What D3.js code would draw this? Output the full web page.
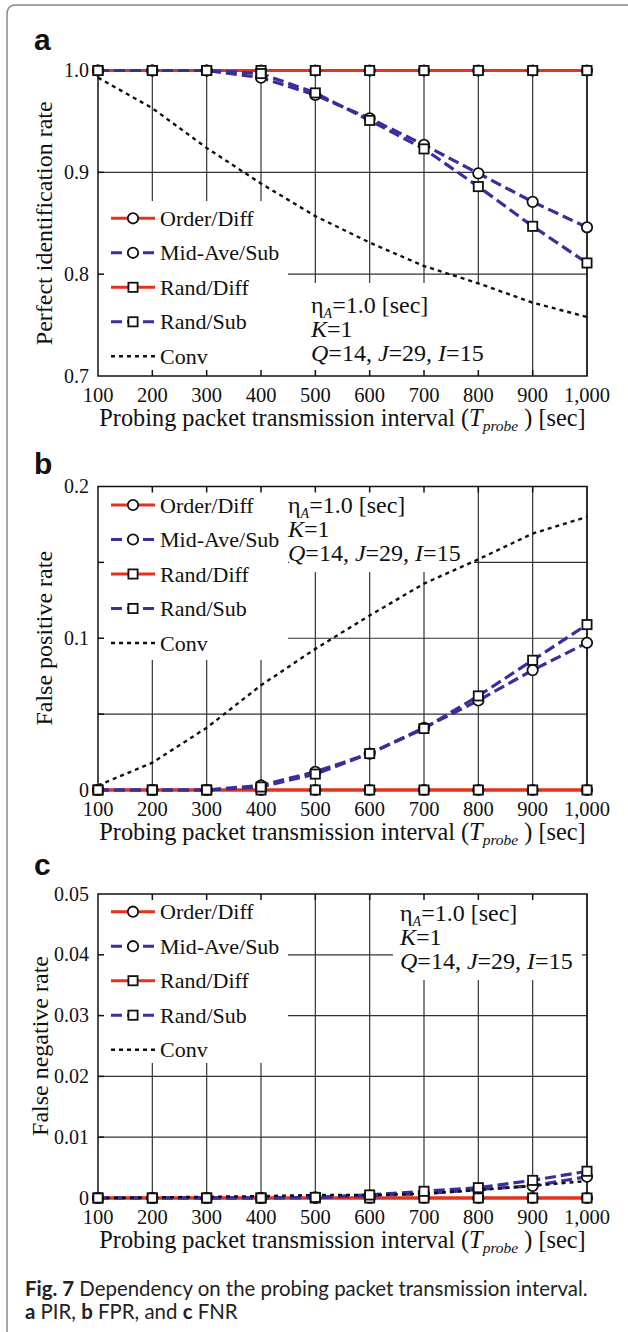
<!DOCTYPE html>
<html lang="en">
<head>
    <meta charset="UTF-8">
    <title>Fig. 7 Dependency on the probing packet transmission interval</title>
    <style>
        body { margin: 0; background: #fff; }
        svg { display: block; }
        .serif { font-family: "Liberation Serif", "Times New Roman", serif; fill: #111; }
        .grid { stroke: #333; stroke-width: 1.2px; }
        .frame { stroke: #111; stroke-width: 1.5px; fill: none; }
    </style>
</head>
<body>
    <svg width="628" height="1332"></svg>
    <script src="https://d3js.org/d3.v7.min.js"></script>
    <script>
        // ---- data ----
        const intervals = [100, 200, 300, 400, 500, 600, 700, 800, 900, 1000];
        const intervalLabels = ["100", "200", "300", "400", "500", "600", "700", "800", "900", "1,000"];

        // a: perfect identification rate
        const pirOrderDiff = [1, 1, 1, 1, 1, 1, 1, 1, 1, 1];
        const pirMidAveSub = [1, 1, 1, 0.993, 0.976, 0.953, 0.927, 0.899, 0.871, 0.846];
        const pirRandDiff  = [1, 1, 1, 1, 1, 1, 1, 1, 1, 1];
        const pirRandSub   = [1, 1, 1, 0.997, 0.978, 0.951, 0.923, 0.886, 0.847, 0.811];
        const pirConv      = [0.993, 0.963, 0.924, 0.889, 0.857, 0.831, 0.808, 0.791, 0.772, 0.758];

        // b: false positive rate
        const fprOrderDiff = [0, 0, 0, 0, 0, 0, 0, 0, 0, 0];
        const fprMidAveSub = [0, 0, 0, 0.003, 0.012, 0.024, 0.041, 0.059, 0.079, 0.097];
        const fprRandDiff  = [0, 0, 0, 0, 0, 0, 0, 0, 0, 0];
        const fprRandSub   = [0, 0, 0, 0.002, 0.0105, 0.024, 0.0405, 0.062, 0.0855, 0.109];
        const fprConv      = [0.003, 0.018, 0.041, 0.069, 0.093, 0.115, 0.136, 0.152, 0.169, 0.18];

        // c: false negative rate
        const fnrOrderDiff = [0, 0, 0, 0, 0, 0, 0, 0, 0, 0];
        const fnrMidAveSub = [0, 0, 0, 0, 0.0001, 0.0004, 0.0007, 0.0014, 0.002, 0.0035];
        const fnrRandDiff  = [0, 0, 0, 0, 0, 0, 0, 0, 0, 0];
        const fnrRandSub   = [0, 0, 0, 0, 0.0001, 0.0005, 0.0011, 0.0017, 0.0029, 0.0044];
        const fnrConv      = [0, 0.0001, 0.0002, 0.0003, 0.0005, 0.0005, 0.0007, 0.0013, 0.002, 0.0028];

        const seriesNames = ["Order/Diff", "Mid-Ave/Sub", "Rand/Diff", "Rand/Sub", "Conv"];

        const pirTicks = [0.7, 0.8, 0.9, 1.0], pirTickLabels = ["0.7", "0.8", "0.9", "1.0"];
        const fprTicks = [0, 0.05, 0.1, 0.15, 0.2], fprTickLabels = ["0", "", "0.1", "", "0.2"];
        const fnrTicks = [0, 0.01, 0.02, 0.03, 0.04, 0.05], fnrTickLabels = ["0", "0.01", "0.02", "0.03", "0.04", "0.05"];

        // ---- styles ----
        const RED = "#e4321e", BLUE = "#3b2d9b";
        const styles = [
            { color: RED,  dash: null,   marker: "circle" },
            { color: BLUE, dash: "11,5", marker: "circle" },
            { color: RED,  dash: null,   marker: "square" },
            { color: BLUE, dash: "11,5", marker: "square" },
            { color: "#111", dash: "4,4", marker: null, width: 2.4 }
        ];

        const svg = d3.select("svg");
        const x = d3.scaleLinear().domain([100, 1000]).range([98, 587]);

        // page frame
        svg.append("path")
            .attr("d", "M7,1332 V14 Q7,5 16,5 H640")
            .attr("fill", "none").attr("stroke", "#8a8a8a").attr("stroke-width", 1.5);

        const panels = [
            { label: "a", labelY: 50, title: "Perfect identification rate", titleX: 52,
              domain: [0.7, 1.0], range: [376, 70.5], ticks: pirTicks, tickLabels: pirTickLabels,
              series: [pirOrderDiff, pirMidAveSub, pirRandDiff, pirRandSub, pirConv],
              legend: { box: [98, 200, 288, 376], y0: 218.3 },
              note: { box: [288, 282, 520, 376], x: 311, y0: 313 } },
            { label: "b", labelY: 474, title: "False positive rate", titleX: 52,
              domain: [0, 0.2], range: [790, 486.5], ticks: fprTicks, tickLabels: fprTickLabels,
              series: [fprOrderDiff, fprMidAveSub, fprRandDiff, fprRandSub, fprConv],
              legend: { box: [98, 486.5, 288, 660], y0: 505 },
              note: { box: [288, 486.5, 474, 572], x: 288, y0: 513 } },
            { label: "c", labelY: 875, title: "False negative rate", titleX: 48,
              domain: [0, 0.05], range: [1198, 894], ticks: fnrTicks, tickLabels: fnrTickLabels,
              series: [fnrOrderDiff, fnrMidAveSub, fnrRandDiff, fnrRandSub, fnrConv],
              legend: { box: [98, 894, 288, 1063], y0: 911.7 },
              note: { box: [392, 894, 582, 980], x: 400, y0: 921 } }
        ];

        function drawMarker(g, shape, cx, cy) {
            if (shape === "circle") {
                g.append("circle").attr("cx", cx).attr("cy", cy).attr("r", 5.2)
                    .attr("fill", "#fff").attr("stroke", "#111").attr("stroke-width", 1.8);
            } else if (shape === "square") {
                g.append("rect").attr("x", cx - 4.6).attr("y", cy - 4.6)
                    .attr("width", 9.2).attr("height", 9.2)
                    .attr("fill", "#fff").attr("stroke", "#111").attr("stroke-width", 1.8);
            }
        }

        panels.forEach(function(p) {
            const y = d3.scaleLinear().domain(p.domain).range(p.range);
            const g = svg.append("g");
            const top = p.range[1], bottom = p.range[0], left = x.range()[0], right = x.range()[1];

            // grid
            g.selectAll(".hgrid").data(p.ticks.slice(1, -1)).enter().append("line")
                .attr("class", "grid")
                .attr("x1", left).attr("x2", right)
                .attr("y1", d => y(d)).attr("y2", d => y(d));
            g.selectAll(".vgrid").data(intervals.slice(1)).enter().append("line")
                .attr("class", "grid")
                .attr("x1", d => x(d)).attr("x2", d => x(d))
                .attr("y1", top).attr("y2", bottom);

            // white boxes behind legend and note
            [p.legend.box, p.note.box].forEach(function(b) {
                g.append("rect").attr("x", b[0] + 1).attr("y", b[1] + 1)
                    .attr("width", b[2] - b[0] - 1).attr("height", b[3] - b[1] - 1)
                    .attr("fill", "#fff");
            });

            // frame and inside ticks
            g.append("rect").attr("class", "frame")
                .attr("x", left).attr("y", top).attr("width", right - left).attr("height", bottom - top);
            intervals.slice(1, -1).forEach(function(d) {
                g.append("line").attr("class", "frame").attr("x1", x(d)).attr("x2", x(d))
                    .attr("y1", bottom).attr("y2", bottom - 6);
                g.append("line").attr("class", "frame").attr("x1", x(d)).attr("x2", x(d))
                    .attr("y1", top).attr("y2", top + 6);
            });
            p.ticks.slice(1, -1).forEach(function(d) {
                g.append("line").attr("class", "frame").attr("x1", left).attr("x2", left + 6)
                    .attr("y1", y(d)).attr("y2", y(d));
            });

            // axis labels
            g.selectAll(".ytl").data(p.ticks).enter().append("text")
                .attr("class", "serif").attr("font-size", 20)
                .attr("x", 89).attr("y", d => y(d)).attr("dy", "0.33em")
                .attr("text-anchor", "end")
                .text((d, i) => p.tickLabels[i]);
            g.selectAll(".xtl").data(intervals).enter().append("text")
                .attr("class", "serif").attr("font-size", 20.5)
                .attr("x", d => x(d)).attr("y", bottom + 26)
                .attr("text-anchor", "middle")
                .text((d, i) => intervalLabels[i]);

            const xt = g.append("text").attr("class", "serif").attr("font-size", 24.3)
                .attr("x", (left + right) / 2).attr("y", bottom + 50).attr("text-anchor", "middle");
            xt.append("tspan").text("Probing packet transmission interval (");
            xt.append("tspan").attr("font-style", "italic").text("T");
            xt.append("tspan").attr("font-style", "italic").attr("font-size", 15.5).attr("dy", 5).text("probe");
            xt.append("tspan").attr("dy", -5).text(" ) [sec]");

            g.append("text").attr("class", "serif").attr("font-size", 24)
                .attr("transform", "translate(" + p.titleX + "," + ((top + bottom) / 2) + ") rotate(-90)")
                .attr("text-anchor", "middle")
                .text(p.title);

            g.append("text").attr("x", 34).attr("y", p.labelY)
                .attr("font-family", "'Liberation Sans', Arial, sans-serif")
                .attr("font-weight", "bold").attr("font-size", 30).attr("fill", "#111")
                .text(p.label);

            // series lines
            const line = d3.line().x((d, i) => x(intervals[i])).y(d => y(d));
            const lineOrder = [0, 2, 1, 3, 4];
            lineOrder.forEach(function(k) {
                const s = styles[k];
                g.append("path").datum(p.series[k])
                    .attr("d", line).attr("fill", "none")
                    .attr("stroke", s.color).attr("stroke-width", s.width || 3.2)
                    .attr("stroke-dasharray", s.dash);
            });
            // markers
            [0, 1, 2, 3].forEach(function(k) {
                p.series[k].forEach(function(v, i) {
                    drawMarker(g, styles[k].marker, x(intervals[i]), y(v));
                });
            });

            // legend
            seriesNames.forEach(function(name, k) {
                const cy = p.legend.y0 + k * 34.5, s = styles[k];
                g.append("line").attr("x1", 111).attr("x2", 155).attr("y1", cy).attr("y2", cy)
                    .attr("stroke", s.color).attr("stroke-width", s.width || 3)
                    .attr("stroke-dasharray", s.dash);
                drawMarker(g, s.marker, 133, cy);
                g.append("text").attr("class", "serif").attr("font-size", 22)
                    .attr("x", 160).attr("y", cy + 7.5).text(name);
            });

            // parameter note
            const n = g.append("text").attr("class", "serif").attr("font-size", 24);
            n.append("tspan").attr("x", p.note.x).attr("y", p.note.y0).text("η");
            n.append("tspan").attr("font-style", "italic").attr("font-size", 14).attr("dy", 5).text("A");
            n.append("tspan").attr("dy", -5).text("=1.0 [sec]");
            n.append("tspan").attr("x", p.note.x).attr("y", p.note.y0 + 24).attr("font-style", "italic").text("K");
            n.append("tspan").text("=1");
            n.append("tspan").attr("x", p.note.x).attr("y", p.note.y0 + 48).attr("font-style", "italic").text("Q");
            n.append("tspan").text("=14, ");
            n.append("tspan").attr("font-style", "italic").text("J");
            n.append("tspan").text("=29, ");
            n.append("tspan").attr("font-style", "italic").text("I");
            n.append("tspan").text("=15");
        });

        // caption: size fitted so the first line spans the same width as the original
        const capFont = "Lato, 'Open Sans', sans-serif";
        const c1 = svg.append("text").attr("x", 25).attr("y", 1296)
            .attr("font-family", capFont).attr("font-size", 18).attr("fill", "#222");
        c1.append("tspan").attr("font-weight", "bold").text("Fig. 7");
        c1.append("tspan").text(" Dependency on the probing packet transmission interval.");
        const capSize = 18 * 563 / c1.node().getComputedTextLength();
        c1.attr("font-size", capSize);
        const c2 = svg.append("text").attr("x", 25).attr("y", 1319)
            .attr("font-family", capFont).attr("font-size", capSize).attr("fill", "#222");
        c2.append("tspan").attr("font-weight", "bold").text("a");
        c2.append("tspan").text(" PIR, ");
        c2.append("tspan").attr("font-weight", "bold").text("b");
        c2.append("tspan").text(" FPR, and ");
        c2.append("tspan").attr("font-weight", "bold").text("c");
        c2.append("tspan").text(" FNR");
    </script>
</body>
</html>
